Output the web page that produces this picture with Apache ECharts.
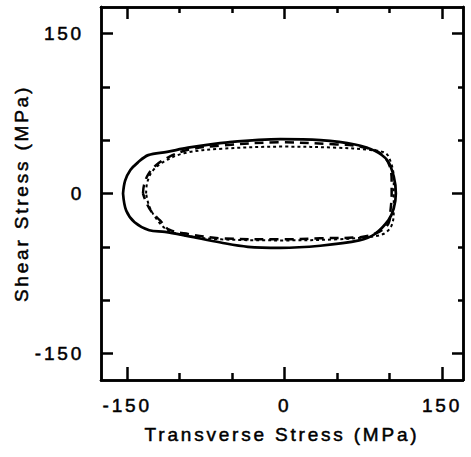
<!DOCTYPE html>
<html>
<head>
<meta charset="utf-8">
<script src="https://cdn.jsdelivr.net/npm/echarts@6/dist/echarts.min.js"></script>
<style>
  html, body { margin: 0; padding: 0; background: #fff; }
  #chart { width: 471px; height: 457px; }
  #chart text { letter-spacing: 2.8px; }
</style>
</head>
<body>
<div id="chart"></div>
<script>
// Tick values
const majorTicks = [-150, 0, 150];
const minorTicks = [-100, -50, 50, 100];
const tickLabels = ['-150', '0', '150'];

// Curves: [transverse stress, shear stress] in MPa
const solidCurve = [
  [-154, 0], [-152, 12], [-147, 22], [-140, 29], [-130, 36], [-112, 39], [-92, 43], [-54, 48],
  [-4, 51], [34, 50], [67, 46], [86, 40], [98, 31], [104, 16], [106, 0],
  [104, -14], [99, -25], [86, -38], [71, -44], [34, -49], [-4, -51],
  [-35, -50], [-61, -46], [-92, -40], [-114, -36], [-129, -34.5],
  [-143, -27], [-151, -16], [-154, 0]
];
const dashedCurve = [
  [-135, 0], [-134, 8], [-130, 18], [-122, 27], [-111, 34], [-92, 41], [-61, 45],
  [-4, 48], [50, 46], [72, 44], [91, 38], [100, 26], [102, 10], [102, 0],
  [101, -15], [99, -28], [90, -36], [72, -41], [34, -42], [-4, -43],
  [-61, -42], [-92, -38], [-110, -34], [-119, -25], [-127, -17], [-132, -8], [-135, 0]
];
const dottedCurve = [
  [-132, 0], [-131, 10], [-126, 21], [-115, 30], [-95, 38], [-60, 42], [0, 44],
  [50, 43], [80, 41], [96, 38], [101, 30], [104, 15], [104, 0], [104, -15],
  [102, -30], [94, -38], [78, -41], [50, -43], [0, -44], [-60, -43],
  [-92, -40], [-112, -34], [-122, -24], [-129, -12], [-132, 0]
];

const font = '"Liberation Sans", Arial, sans-serif';
const textStyle = { fontFamily: font, fontSize: 19, color: '#000', textBorderColor: '#000', textBorderWidth: 0.5 };
const xMin = -175, xMax = 170, yMin = -175, yMax = 175;

function tickAxis(base, pos, values, len, extra) {
  return Object.assign({
    type: 'value', position: pos, min: base === 'x' ? xMin : yMin, max: base === 'x' ? xMax : yMax,
    axisLine: { show: true, onZero: false, lineStyle: { color: '#000', width: 2.5 } },
    axisTick: { show: true, inside: true, length: len, customValues: values, lineStyle: { color: '#000', width: 2.5 } },
    axisLabel: { show: false },
    splitLine: { show: false }
  }, extra || {});
}

const chart = echarts.init(document.getElementById('chart'), null, { renderer: 'svg' });
chart.setOption({
  animation: false,
  backgroundColor: '#fff',
  grid: { left: 101, right: 8, top: 7, bottom: 77 },
  xAxis: [
    tickAxis('x', 'bottom', majorTicks, 13, {
      name: 'Transverse Stress (MPa)', nameLocation: 'middle', nameGap: 45,
      nameTextStyle: Object.assign({}, textStyle),
      axisLabel: Object.assign({ show: true, customValues: majorTicks, margin: 16,
        formatter: v => tickLabels[majorTicks.indexOf(v)] }, textStyle)
    }),
    tickAxis('x', 'bottom', minorTicks, 7),
    tickAxis('x', 'top', majorTicks, 12),
    tickAxis('x', 'top', minorTicks, 6)
  ],
  yAxis: [
    tickAxis('y', 'left', majorTicks, 12, {
      name: 'Shear Stress (MPa)', nameLocation: 'middle', nameGap: 70, nameRotate: 90,
      nameTextStyle: Object.assign({}, textStyle),
      axisLabel: Object.assign({ show: true, customValues: majorTicks, margin: 17,
        formatter: v => tickLabels[majorTicks.indexOf(v)] }, textStyle)
    }),
    tickAxis('y', 'left', minorTicks, 9),
    tickAxis('y', 'right', majorTicks, 11),
    tickAxis('y', 'right', minorTicks, 5)
  ],
  series: [
    { type: 'line', data: solidCurve, smooth: 0.35, showSymbol: false, xAxisIndex: 0, yAxisIndex: 0,
      lineStyle: { color: '#000', width: 2.7 } },
    { type: 'line', data: dashedCurve, smooth: 0.35, showSymbol: false, xAxisIndex: 0, yAxisIndex: 0,
      lineStyle: { color: '#000', width: 2.5, type: [9, 6] } },
    { type: 'line', data: dottedCurve, smooth: 0.35, showSymbol: false, xAxisIndex: 0, yAxisIndex: 0,
      lineStyle: { color: '#000', width: 2, type: [3, 3] } }
  ]
});
</script>
</body>
</html>
